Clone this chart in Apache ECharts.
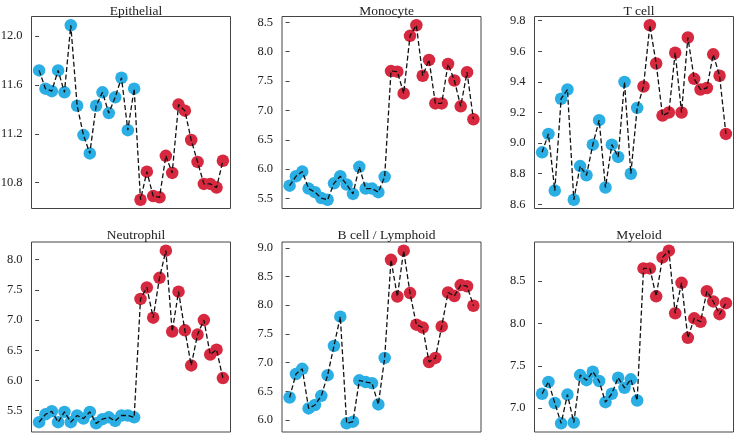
<!DOCTYPE html>
<html>
<head>
<meta charset="utf-8">
<script src="https://cdn.jsdelivr.net/npm/echarts@6/dist/echarts.min.js"></script>
<style>
  html, body { margin: 0; padding: 0; background: #fff; }
  #chart { width: 735px; height: 435px; }
</style>
</head>
<body>
<div id="chart"></div>
<script>
// panel names, in reading order
const panelTitles = ['Epithelial', 'Monocyte', 'T cell', 'Neutrophil', 'B cell / Lymphoid', 'Myeloid'];

// first 16 samples are the blue group, the rest red
const nBlue = 16;

const epithelial = [11.72, 11.57, 11.55, 11.72, 11.54, 12.09, 11.43, 11.19, 11.04, 11.43, 11.54, 11.37, 11.50, 11.66, 11.23, 11.57,
  10.66, 10.89, 10.69, 10.68, 11.02, 10.88, 11.44, 11.39, 11.15, 10.97, 10.79, 10.79, 10.76, 10.98];
const monocyte = [5.72, 5.88, 5.96, 5.67, 5.61, 5.51, 5.48, 5.76, 5.88, 5.74, 5.58, 6.04, 5.67, 5.67, 5.61, 5.87,
  7.67, 7.66, 7.29, 8.27, 8.45, 7.59, 7.86, 7.12, 7.12, 7.79, 7.51, 7.07, 7.65, 6.85];
const tCell = [8.94, 9.06, 8.69, 9.29, 9.35, 8.63, 8.85, 8.79, 8.99, 9.15, 8.71, 8.99, 8.91, 9.40, 8.80, 9.23,
  9.37, 9.77, 9.52, 9.18, 9.20, 9.59, 9.20, 9.69, 9.42, 9.35, 9.36, 9.58, 9.44, 9.06];
const neutrophil = [5.31, 5.44, 5.49, 5.31, 5.48, 5.31, 5.42, 5.37, 5.48, 5.29, 5.36, 5.39, 5.33, 5.42, 5.42, 5.39,
  7.35, 7.54, 7.04, 7.70, 8.15, 6.81, 7.47, 6.83, 6.25, 6.76, 7.00, 6.43, 6.51, 6.04];
const bCell = [6.39, 6.80, 6.89, 6.20, 6.26, 6.42, 6.78, 7.29, 7.80, 5.94, 5.97, 6.69, 6.66, 6.64, 6.27, 7.08,
  8.79, 8.15, 8.95, 8.21, 7.66, 7.61, 7.01, 7.08, 7.63, 8.22, 8.16, 8.35, 8.33, 7.99];
const myeloid = [7.17, 7.31, 7.06, 6.82, 7.16, 6.83, 7.39, 7.33, 7.43, 7.32, 7.07, 7.17, 7.36, 7.24, 7.34, 7.09,
  8.65, 8.65, 8.32, 8.78, 8.86, 8.12, 8.48, 7.83, 8.06, 8.02, 8.38, 8.26, 8.11, 8.24];

// y tick labels per panel
const epithelialTicks = [10.8, 11.2, 11.6, 12.0];
const monocyteTicks = [5.5, 6.0, 6.5, 7.0, 7.5, 8.0, 8.5];
const tCellTicks = [8.6, 8.8, 9.0, 9.2, 9.4, 9.6, 9.8];
const neutrophilTicks = [5.5, 6.0, 6.5, 7.0, 7.5, 8.0];
const bCellTicks = [6.0, 6.5, 7.0, 7.5, 8.0, 8.5, 9.0];
const myeloidTicks = [7.0, 7.5, 8.0, 8.5];

const panelValues = [epithelial, monocyte, tCell, neutrophil, bCell, myeloid];
const panelTicks = [epithelialTicks, monocyteTicks, tCellTicks, neutrophilTicks, bCellTicks, myeloidTicks];

const BLUE = '#2AAEE4';
const RED = '#D6283F';
const FONT = '"Liberation Serif", "DejaVu Serif", serif';

// panel boxes in px
const colLeft = [31.5, 282, 534.5];
const colWidth = 199;
const rowTop = [16.5, 242];
const rowHeight = [192, 190];

const chart = echarts.init(document.getElementById('chart'));

const grids = [], xAxes = [], yAxes = [], series = [], titles = [];

panelValues.forEach((vals, p) => {
  const col = p % 3, row = Math.floor(p / 3);
  const lo = Math.min(...vals), hi = Math.max(...vals);
  const pad = (hi - lo) * 0.05;

  grids.push({
    left: colLeft[col], top: rowTop[row], width: colWidth, height: rowHeight[row],
    outerBoundsMode: 'none', containLabel: false,
    show: true, borderColor: '#444', borderWidth: 1, backgroundColor: '#fff'
  });
  titles.push({
    text: panelTitles[p],
    left: colLeft[col] + colWidth / 2,
    top: row === 0 ? -1 : 223,
    textAlign: 'center',
    textStyle: { fontFamily: FONT, fontSize: 13.5, fontWeight: 'normal', color: '#222' }
  });
  xAxes.push({
    gridIndex: p, type: 'value', min: -1.2, max: vals.length - 1 + 1.2,
    axisLine: { show: false }, axisTick: { show: false }, axisLabel: { show: false },
    splitLine: { show: false }
  });
  yAxes.push({
    gridIndex: p, type: 'value', min: lo - pad, max: hi + pad,
    axisLine: { show: false },
    axisTick: { show: true, length: 4, inside: false, customValues: panelTicks[p], lineStyle: { color: '#444' } },
    axisLabel: {
      customValues: panelTicks[p], margin: 9,
      fontFamily: FONT, fontSize: 12.5, color: '#222',
      formatter: v => v.toFixed(1)
    },
    splitLine: { show: false }
  });

  const pts = vals.map((v, i) => [i, v]);
  series.push({
    type: 'scatter', xAxisIndex: p, yAxisIndex: p, clip: false,
    data: pts.slice(0, nBlue), symbolSize: 12.5,
    itemStyle: { color: BLUE, opacity: 1 }, z: 2, silent: true
  });
  series.push({
    type: 'scatter', xAxisIndex: p, yAxisIndex: p, clip: false,
    data: pts.slice(nBlue), symbolSize: 12.5,
    itemStyle: { color: RED, opacity: 1 }, z: 2, silent: true
  });
  series.push({
    type: 'line', xAxisIndex: p, yAxisIndex: p, clip: false,
    data: pts, showSymbol: false, symbol: 'none',
    lineStyle: { color: '#111', width: 1.3, type: [5, 2.6] },
    z: 3, silent: true
  });
});

chart.setOption({
  animation: false,
  title: titles,
  grid: grids,
  xAxis: xAxes,
  yAxis: yAxes,
  series: series
});
</script>
</body>
</html>
